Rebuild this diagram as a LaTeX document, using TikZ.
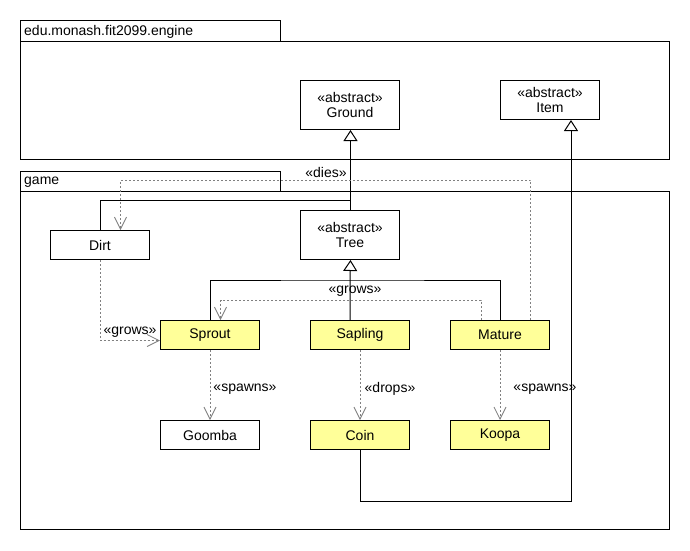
\documentclass[tikz,border=0pt]{standalone}
\usepackage{fontspec}
\setmainfont{Liberation Sans}
\usetikzlibrary{arrows.meta}
\definecolor{clsyellow}{HTML}{FFFF99}
\definecolor{depgray}{HTML}{808080}
\begin{document}
\begin{tikzpicture}[x=1pt,y=-1pt,
  txt/.style={font=\fontsize{14}{15.5}\selectfont, inner sep=0pt},
  cls/.style={txt, draw, line width=1pt, minimum width=99pt, minimum height=29pt, align=center, anchor=north west, fill=white},
  hl/.style={fill=clsyellow},
  pkg/.style={draw, line width=1pt},
  gen/.style={draw, line width=1pt, -{Triangle[open, length=11pt, width=14pt, fill=white]}},
  assoc/.style={draw, line width=1pt},
  dep/.style={draw=depgray, line width=0.8pt, dash pattern=on 2pt off 2pt, -{Straight Barb[length=12pt, width=12pt, line width=0.8pt]}},
  lbl/.style={txt}
]
\useasboundingbox (0,0) rectangle (690,550);
\fill[white] (0,0) rectangle (690,550);
% packages
\draw[pkg] (20,20) rectangle (280,41);
\draw[pkg] (20,41) rectangle (669,159);
\node[txt, anchor=west] (pkgengine) at (24,31.5) {edu.monash.fit2099.engine};
\draw[pkg] (20,171) rectangle (280,191);
\draw[pkg] (20,191) rectangle (669,529);
\node[txt, anchor=west] (pkggame) at (24,182) {game};
% classes
\node[cls, minimum height=49pt] (Ground) at (300,80) {«abstract»\\Ground};
\node[cls, minimum height=39pt] (Item) at (500,80) {«abstract»\\Item};
\node[cls, minimum height=49pt] (Tree) at (300,210) {«abstract»\\Tree};
\node[cls] (Dirt) at (50,230) {Dirt};
\node[cls, hl] (Sprout) at (160,320) {Sprout};
\node[cls, hl] (Sapling) at (310,320) {Sapling};
\node[cls, hl] (Mature) at (450,320) {Mature};
\node[cls] (Goomba) at (160,420) {Goomba};
\node[cls, hl] (Coin) at (310,420) {Coin};
\node[cls, hl] (Koopa) at (450,420) {Koopa};
% junctions
\coordinate (jg) at (350,200);
\coordinate (jt) at (350,280);
% generalizations
\draw[gen] ([xshift=0.5pt]Tree.north) -- ([xshift=0.5pt]Ground.south);
\draw[assoc] (Dirt.north) |- (jg);
\draw[gen] (jt |- Sapling.north) -- (jt) -- ([xshift=0.5pt]Tree.south);
\draw[assoc] (Sprout.north) |- (jt) -| (Mature.north);
\draw[gen] (Coin.south) -- ++(0,51) -| ([xshift=21pt]Item.south);
% dependencies
\draw[dep] ([xshift=30.5pt]Mature.north) -- ++(0,-140) -| ([xshift=20.5pt]Dirt.north);
\node[lbl] (ldies) at (326,172) {«dies»};
\draw[dep] ([xshift=-19pt]Mature.north) -- ++(0,-20) -| ([xshift=10.5pt]Sprout.north);
\node[lbl] (lgrows1) at (355,291) {«grows»};
\draw[dep] (Dirt.south) |- ([yshift=-5.5pt]Sprout.west);
\node[lbl] (lgrows2) at (130,332) {«grows»};
\draw[dep] (Sprout.south) -- (Goomba.north);
\node[lbl] (lspawns1) at (245,389) {«spawns»};
\draw[dep] (Sapling.south) -- (Coin.north);
\node[lbl] (ldrops) at (390,389) {«drops»};
\draw[dep] (Mature.south) -- (Koopa.north);
\node[lbl] (lspawns2) at (545,389) {«spawns»};
\end{tikzpicture}
\end{document}
